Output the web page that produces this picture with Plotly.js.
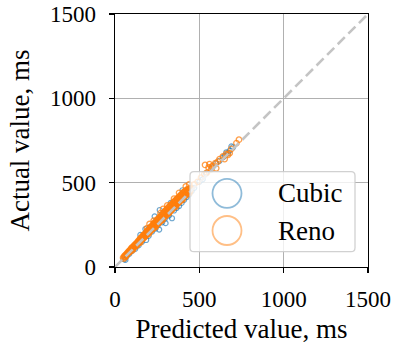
<!DOCTYPE html>
<html>
<head>
<meta charset="utf-8">
<script src="https://cdn.plot.ly/plotly-3.0.1.min.js"></script>
<style>html,body{margin:0;padding:0;background:#fff;}#chart{width:397px;height:352px;}</style>
</head>
<body>
<div id="chart"></div>
<script>
// ---- data ----
const seriesNames = ["Cubic", "Reno"];
const axisRange = [0, 1500];
const tickValues = [0, 500, 1000, 1500];
const xTitle = "Predicted value, ms";
const yTitle = "Actual value, ms";

const cubicPredicted = [55,62,70,85,100,120,140,160,185,200,207,220,240,255,262,270,280,295,300,320,338,350,365,380,395,410,425,440,455,470,500,520,540,575,600,620,640,652,660,670,680,700,265,235,180,150,330,400,690];
const cubicActual    = [45,42,65,78,95,108,128,150,160,185,235,210,228,250,222,290,265,285,260,305,289,335,350,362,380,398,415,430,450,470,505,520,555,590,615,630,650,660,680,675,690,710,338,300,225,190,380,455,715];

const renoPredicted = [48,52,55,58,61,63,66,70,72,75,78,81,84,88,90,93,96,100,103,106,110,112,115,119,122,125,128,131,135,138,141,145,148,150,154,157,160,163,167,170,172,176,179,182,185,188,191,195,198,201,204,207,210,213,216,219,222,225,228,231,234,237,240,243,246,249,252,255,258,261,264,267,270,273,276,279,282,285,288,291,294,297,300,303,306,309,312,315,318,321,324,327,330,333,336,339,342,345,348,351,354,357,360,363,366,369,372,375,378,381,384,387,390,393,396,399,402,405,408,411,414,417,420,423,426,430,434,438,442,446,450,
  60,85,105,130,150,175,200,220,240,260,280,300,320,340,360,380,400,420,440,95,140,185,230,270,310,350,390,430,
  100,115,125,135,145,155,165,175,185,195,205,215,225,235,245,255,265,275,285,295,305,315,325,335,345,355,365,375,385,395,405,415,425,435,445,
  150,170,190,210,230,250,270,290,310,330,350,370,390,410,430,200,240,280,320,360,400,
  190,230,270,310,350,205,285,380,440,420,
  470,490,510,530,545,555,560,570,580,595,600,610,620,640,650,660,670,680,690,720,735,534,573];
const renoActual = [55,50,64,60,70,62,75,72,82,78,90,84,95,90,102,96,110,104,118,108,122,115,130,120,136,128,142,133,150,140,158,148,165,155,172,160,180,166,186,172,192,180,198,185,205,190,212,198,220,205,228,210,235,216,240,222,248,228,255,232,262,240,268,245,275,252,282,258,288,262,295,270,300,276,308,282,315,288,320,294,328,300,335,306,340,312,348,318,355,324,360,330,366,336,372,342,378,350,385,356,390,362,396,368,402,374,408,380,414,386,420,392,426,398,432,404,438,410,444,418,448,424,452,430,456,440,460,446,462,452,466,
  58,88,100,128,145,178,196,224,236,265,276,305,318,345,356,385,398,425,436,104,150,196,243,285,325,368,410,452,
  112,124,136,145,155,168,176,188,198,210,220,230,241,252,262,272,282,294,303,314,324,334,345,356,366,376,386,398,408,418,428,438,448,458,466,
  170,190,212,235,255,278,298,322,342,364,385,405,425,445,462,210,250,292,335,375,418,
  230,275,320,365,405,255,345,440,490,478,
  490,505,530,550,560,590,610,580,600,615,585,625,640,655,640,670,665,675,700,735,755,605,595];

// ---- plot ----
const fontFam = "Liberation Serif, Times New Roman, serif";
const cubicColor = "rgba(31,119,180,0.65)";
const renoColor = "rgba(255,127,14,0.75)";

const traces = [
  {type:"scatter", mode:"markers", name:seriesNames[0], x:cubicPredicted, y:cubicActual,
   marker:{symbol:"circle-open", size:5, line:{width:1.2, color:cubicColor}, color:cubicColor}, showlegend:false, hoverinfo:"skip"},
  {type:"scatter", mode:"markers", name:seriesNames[1], x:renoPredicted, y:renoActual,
   marker:{symbol:"circle-open", size:5.5, line:{width:1.3, color:renoColor}, color:renoColor}, showlegend:false, hoverinfo:"skip"},
  {type:"scatter", mode:"lines", x:axisRange, y:axisRange,
   line:{color:"#c4c4c4", width:2.6, dash:"10px,5px"}, showlegend:false, hoverinfo:"skip"}
];

// legend drawn by hand (pixel positions converted to data units)
const pw = 253, ox = 115, oy = 267;
const u = (axisRange[1]-axisRange[0]) / pw;
const dx = px => (px - ox) * u;
const dy = py => (oy - py) * u;
const bx0 = dx(190), bx1 = dx(355), by1 = dy(171.7), by0 = dy(251.7), r = 4*u;
const boxPath = `M ${bx0+r},${by1} L ${bx1-r},${by1} Q ${bx1},${by1} ${bx1},${by1-r} L ${bx1},${by0+r} Q ${bx1},${by0} ${bx1-r},${by0} L ${bx0+r},${by0} Q ${bx0},${by0} ${bx0},${by0+r} L ${bx0},${by1-r} Q ${bx0},${by1} ${bx0+r},${by1} Z`;
const legendRows = [{name:seriesNames[0], py:193.3, color:"rgba(31,119,180,0.5)"},
                    {name:seriesNames[1], py:230.5, color:"rgba(255,127,14,0.5)"}];
const shapes = [{type:"path", xref:"x", yref:"y", path:boxPath, fillcolor:"rgba(255,255,255,0.8)",
                 line:{color:"rgba(204,204,204,0.9)", width:1.3}, layer:"above"}];
const annotations = [];
legendRows.forEach(row => {
  shapes.push({type:"circle", xref:"x", yref:"y", xsizemode:"pixel", ysizemode:"pixel",
    xanchor:dx(227), yanchor:dy(row.py), x0:-14.5, x1:14.5, y0:-14.5, y1:14.5,
    line:{color:row.color, width:1.8}, layer:"above"});
  annotations.push({xref:"x", yref:"y", x:dx(276), y:dy(row.py), text:row.name, showarrow:false,
    xanchor:"left", yanchor:"middle", font:{family:fontFam, size:27, color:"#000"}});
});

const axisCommon = {
  range: axisRange, tickvals: tickValues, ticktext: tickValues.map(String),
  showgrid:true, gridcolor:"#b0b0b0", gridwidth:1.2, zeroline:false,
  showline:true, linecolor:"#000", linewidth:1.3, mirror:true,
  ticks:"outside", ticklen:5, tickwidth:1.3, tickcolor:"#000",
  tickfont:{family:fontFam, size:23, color:"#000"}, fixedrange:true
};

const layout = {
  width:397, height:352,
  margin:{l:115, r:29, t:14, b:85, pad:0},
  paper_bgcolor:"#fff", plot_bgcolor:"#fff",
  xaxis:Object.assign({}, axisCommon, {title:{text:xTitle, font:{family:fontFam, size:27, color:"#000"}, standoff:8}, ticklabelstandoff:6}),
  yaxis:Object.assign({}, axisCommon, {title:{text:yTitle, font:{family:fontFam, size:27, color:"#000"}, standoff:12}, ticklabelstandoff:8}),
  shapes: shapes,
  annotations: annotations,
  showlegend:false
};

Plotly.newPlot("chart", traces, layout, {staticPlot:true, displayModeBar:false});
</script>
</body>
</html>
